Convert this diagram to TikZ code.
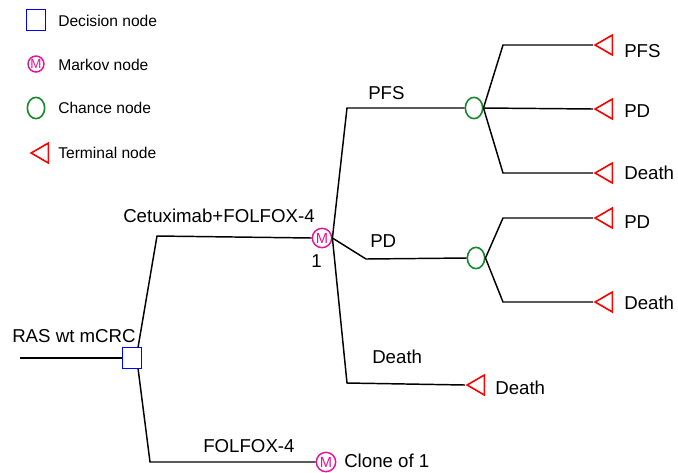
\documentclass[tikz,border=0pt]{standalone}
\usepackage{fontspec}
\setmainfont{Liberation Sans}
\usetikzlibrary{shapes.geometric}
\definecolor{markovcol}{RGB}{225,20,155}
\definecolor{chancecol}{RGB}{25,135,45}

\begin{document}
\begin{tikzpicture}[x=0.75pt, y=-0.75pt,
  treetext/.style = {anchor=base west, inner sep=0pt,
    font=\fontsize{14}{16}\selectfont},
  legtext/.style = {anchor=base west, inner sep=0pt,
    font=\fontsize{11.7}{14}\selectfont},
  decision/.style = {shape=rectangle, draw=blue, line width=1.2pt,
    minimum width=14pt, minimum height=15.5pt, inner sep=0pt},
  markov/.style = {shape=circle, draw=markovcol, line width=1.1pt,
    text=markovcol, inner sep=0pt, minimum size=14.5pt,
    font=\fontsize{11}{12}\selectfont},
  chance/.style = {shape=ellipse, draw=chancecol, line width=1.2pt,
    minimum width=13pt, minimum height=16pt, inner sep=0pt},
  terminal/.style = {shape=isosceles triangle, shape border rotate=180,
    isosceles triangle stretches, draw=red, line width=1.2pt,
    minimum height=13pt, minimum width=15pt, inner sep=0pt, anchor=apex},
  branch/.style = {draw, line width=1.1pt}
  ]
  \useasboundingbox (0,0) rectangle (678,472);

  % legend
  \node[decision] (legdec) at (36,20) {};
  \node[legtext] (legdectxt) at (58,26) {Decision node};
  \node[markov, minimum size=12pt, font=\fontsize{10}{11}\selectfont] (legmkv) at (36,64) {M};
  \node[legtext] (legmkvtxt) at (58,70) {Markov node};
  \node[chance] (legchn) at (36,108) {};
  \node[legtext] (legchntxt) at (58,113) {Chance node};
  \node[terminal] (legterm) at (29,153) {};
  \node[legtext] (legtermtxt) at (58,158) {Terminal node};

  % tree nodes
  \coordinate (root) at (20,358);
  \node[decision] (dec) at (132,358) {};
  \node[markov] (mkv1) at (322,238) {M};
  \node[markov] (mkv2) at (326,462) {M};
  \node[chance] (chn1) at (474,108) {};
  \node[chance] (chn2) at (476,258) {};
  \node[terminal] (t1) at (593,45) {};
  \node[terminal] (t2) at (593,109) {};
  \node[terminal] (t3) at (593,173) {};
  \node[terminal] (t4) at (593,218) {};
  \node[terminal] (t5) at (593,302) {};
  \node[terminal] (t6) at (465,385) {};

  % elbows
  \coordinate (e1) at (157,236);
  \coordinate (e2) at (150,462);
  \coordinate (e3) at (347,108);
  \coordinate (e4) at (366,259);
  \coordinate (e5) at (347,383);
  \coordinate (e6) at (503,45);
  \coordinate (e7) at (503,173);
  \coordinate (e8) at (503,218);
  \coordinate (e9) at (503,302);

  % branches
  \draw[branch] (root) -- (dec.west);
  \draw[branch] ([xshift=-3pt]dec.north east) -- (e1) -- (mkv1.west);
  \draw[branch] ([xshift=-3pt]dec.south east) -- (e2) -- (mkv2.west);
  \draw[branch] (mkv1.east) -- (e3) -- (chn1.west);
  \draw[branch] (mkv1.east) -- (e4) -- (chn2.west);
  \draw[branch] (mkv1.east) -- (e5) -- (t6.apex);
  \draw[branch] (chn1.east) -- (e6) -- (t1.apex);
  \draw[branch] (chn1.east) -- (t2.apex);
  \draw[branch] (chn1.east) -- (e7) -- (t3.apex);
  \draw[branch] (chn2.east) -- (e8) -- (t4.apex);
  \draw[branch] (chn2.east) -- (e9) -- (t5.apex);

  % texts
  \node[treetext] (rastxt) at (12,342) {RAS wt mCRC};
  \node[treetext] (cetuxtxt) at (123,222) {Cetuximab+FOLFOX-4};
  \node[treetext] (folfoxtxt) at (203,452) {FOLFOX-4};
  \node[treetext] (onetxt) at (311,267) {1};
  \node[treetext] (clonetxt) at (344,467) {Clone of 1};
  \node[treetext] (pfsbr) at (368,99) {PFS};
  \node[treetext] (pdbr) at (370,247) {PD};
  \node[treetext] (deathbr) at (372,363) {Death};
  \node[treetext] (t1txt) at (624,57) {PFS};
  \node[treetext] (t2txt) at (624,117) {PD};
  \node[treetext] (t3txt) at (624,179) {Death};
  \node[treetext] (t4txt) at (624,228) {PD};
  \node[treetext] (t5txt) at (624,309) {Death};
  \node[treetext] (t6txt) at (495,394) {Death};
\end{tikzpicture}
\end{document}
